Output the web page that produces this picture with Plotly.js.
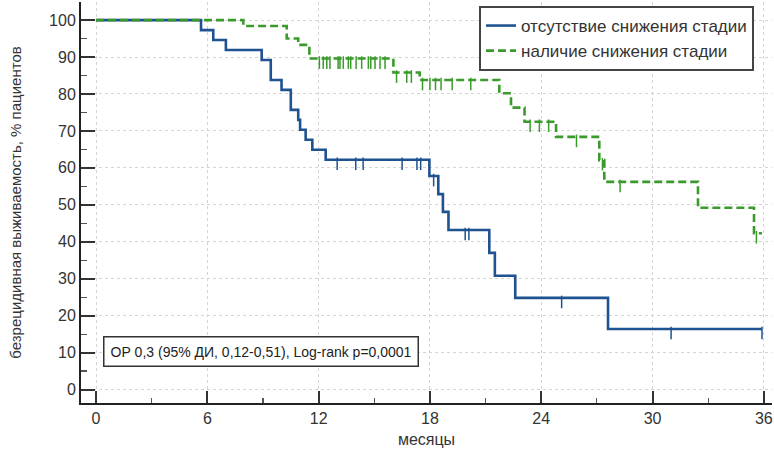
<!DOCTYPE html>
<html>
<head>
<meta charset="utf-8">
<script src="https://cdn.plot.ly/plotly-3.0.1.min.js"></script>
<style>html,body{margin:0;padding:0;background:#fff;}#chart{width:774px;height:454px;}</style>
</head>
<body>
<div id="chart"></div>
<script>
// Series names
const seriesNames = ["отсутствие снижения стадии", "наличие снижения стадии"];

// Group 1: отсутствие снижения стадии (event times, survival %)
const blueTimes = [0, 5.66, 6.32, 7.0, 8.93, 9.42, 10.0, 10.5, 10.9, 11.0, 11.3, 11.66, 12.38, 17.97, 18.45, 18.7, 19.0, 21.2, 21.5, 22.6, 27.6, 35.9];
const blueSurv  = [100, 97.3, 94.6, 91.9, 89.2, 83.8, 81.1, 75.7, 73.0, 70.3, 67.6, 64.9, 62.2, 57.8, 52.9, 48.1, 43.2, 37.0, 30.8, 24.8, 16.4, 16.4];
const blueCensor = [13.0, 14.0, 14.4, 16.5, 17.3, 17.5, 18.2, 19.9, 20.1, 25.1, 31.0, 35.9];

// Group 2: наличие снижения стадии
const greenTimes = [0, 7.94, 10.28, 10.9, 11.5, 16.03, 17.45, 21.74, 22.37, 23.1, 24.8, 27.13, 27.4, 32.45, 35.47, 35.9];
const greenSurv  = [100, 98.4, 95.0, 93.3, 89.6, 85.8, 83.8, 80.2, 76.3, 72.5, 68.4, 62.1, 56.2, 49.2, 42.3, 42.3];
const greenCensor = [12.04, 12.25, 12.44, 12.61, 13.05, 13.15, 13.33, 13.6, 13.73, 14.02, 14.32, 14.68, 14.81, 15.04, 15.31, 15.58,
                     16.2, 16.75, 17.0, 17.6, 18.0, 18.3, 18.6, 19.2, 20.2, 23.4, 23.9, 24.4, 25.9, 27.3, 28.25, 35.6];

// Axis ticks
const xTicks = [0, 6, 12, 18, 24, 30, 36];
const yTicks = [0, 10, 20, 30, 40, 50, 60, 70, 80, 90, 100];

const annotText = "ОР 0,3 (95% ДИ, 0,12-0,51), Log-rank p=0,0001";
const xTitle = "месяцы";
const yTitle = "безрецидивная выживаемость, % пациентов";

const blueColor = "#1f5290";
const greenColor = "#3a9a2c";

function stepAt(times, surv, t) {
  let v = surv[0];
  for (let i = 0; i < times.length; i++) { if (times[i] <= t) v = surv[i]; }
  return v;
}

const tickDrop = 1.1; // censor tick hangs below the line (data units)

const traces = [
  {x: blueTimes, y: blueSurv, mode: "lines", line: {shape: "hv", color: blueColor, width: 2.6}, name: seriesNames[0]},
  {x: greenTimes, y: greenSurv, mode: "lines", line: {shape: "hv", color: greenColor, width: 2.6, dash: "8px,4px"}, name: seriesNames[1]},
  {x: blueCensor, y: blueCensor.map(t => stepAt(blueTimes, blueSurv, t) - tickDrop), mode: "markers", showlegend: false, hoverinfo: "skip",
   marker: {symbol: "line-ns", size: 9, line: {color: blueColor, width: 1.5}}},
  {x: greenCensor, y: greenCensor.map(t => stepAt(greenTimes, greenSurv, t) - tickDrop), mode: "markers", showlegend: false, hoverinfo: "skip",
   marker: {symbol: "line-ns", size: 9, line: {color: greenColor, width: 1.5}}}
];

const fontFam = "Liberation Sans, Arial, sans-serif";

const layout = {
  width: 774, height: 454,
  margin: {l: 81, r: 2, t: 2, b: 51},
  paper_bgcolor: "#fff", plot_bgcolor: "#fff",
  font: {family: fontFam, size: 16, color: "#333"},
  showlegend: true,
  legend: {x: 0.974, xanchor: "right", y: 0.99, yanchor: "top", bgcolor: "#fff", bordercolor: "#444", borderwidth: 2,
           font: {family: fontFam, size: 17, color: "#333"}, tracegroupgap: 0},
  xaxis: {
    range: [-0.81, 36.44], tickvals: xTicks, ticktext: xTicks.map(String),
    ticks: "inside", ticklen: 12, tickwidth: 2, tickcolor: "#333",
    showline: true, linecolor: "#222", linewidth: 2,
    showgrid: true, gridcolor: "#d4d4d4", griddash: "dot", gridwidth: 1, zeroline: false,
    minor: {dtick: 3, tick0: 0, ticks: "inside", ticklen: 5, tickwidth: 1.2, tickcolor: "#555", showgrid: false},
    title: {text: xTitle, font: {size: 16, color: "#333"}, standoff: 8},
    tickfont: {size: 16, color: "#333"}
  },
  yaxis: {
    range: [-3.65, 104.9], tickvals: yTicks, ticktext: yTicks.map(String),
    ticks: "inside", ticklen: 14, tickwidth: 2, tickcolor: "#333",
    showline: true, linecolor: "#222", linewidth: 2,
    showgrid: true, gridcolor: "#d4d4d4", griddash: "dot", gridwidth: 1, zeroline: false,
    minor: {dtick: 5, tick0: 0, ticks: "inside", ticklen: 6, tickwidth: 1.2, tickcolor: "#555", showgrid: false},
    title: {text: yTitle, font: {size: 15, color: "#333"}, standoff: 24},
    tickfont: {size: 16, color: "#333"}
  },
  annotations: [{
    xref: "paper", yref: "paper", x: 0.032, xanchor: "left", y: 0.128, yanchor: "middle",
    text: annotText, showarrow: false, font: {family: fontFam, size: 14, color: "#222"},
    bgcolor: "#fff", bordercolor: "#333", borderwidth: 1.5, borderpad: 6
  }]
};

Plotly.newPlot("chart", traces, layout, {staticPlot: true, displayModeBar: false});
</script>
</body>
</html>
